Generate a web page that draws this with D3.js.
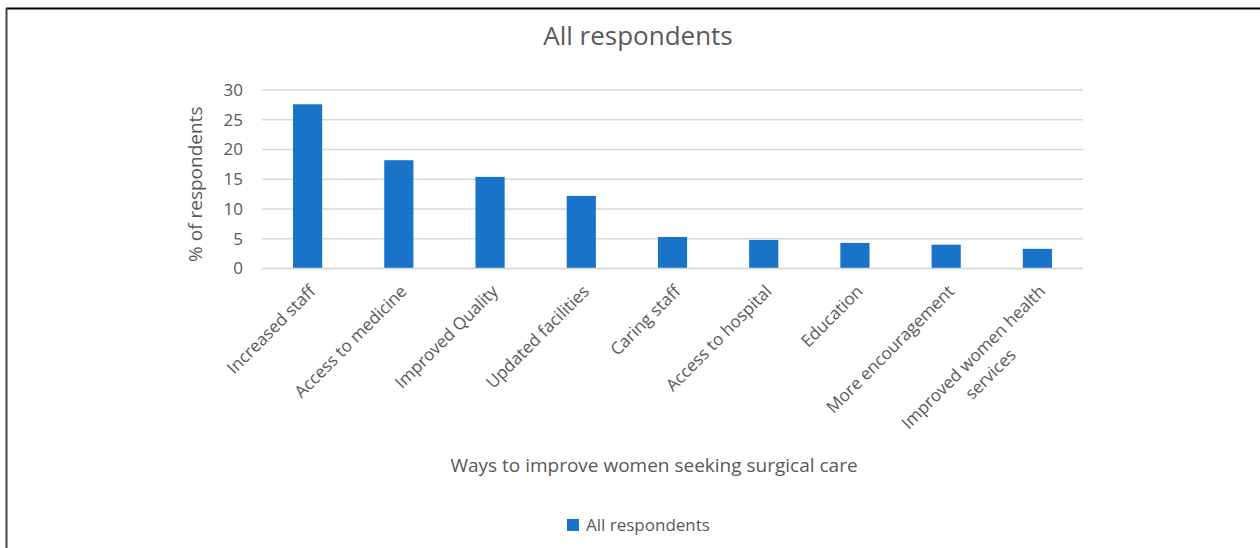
<!DOCTYPE html>
<html>
<head>
<meta charset="utf-8">
<script src="https://cdn.jsdelivr.net/npm/d3@7"></script>
<style>
  html, body { margin: 0; padding: 0; background: #fff; }
  svg { display: block; font-family: "Open Sans", "Noto Sans", sans-serif; }
</style>
</head>
<body>
<svg id="chart" width="1260" height="548"></svg>
<script>
// Suggested ways to improve women seeking surgical care (% of all respondents)
const categories = [
  "Increased staff",
  "Access to medicine",
  "Improved Quality",
  "Updated facilities",
  "Caring staff",
  "Access to hospital",
  "Education",
  "More encouragement",
  "Improved women health services"
];
const values = [27.6, 18.2, 15.4, 12.2, 5.3, 4.8, 4.3, 4.0, 3.3];
const yTicks = [0, 5, 10, 15, 20, 25, 30];
const seriesName = "All respondents";
const chartTitle = "All respondents";
const xTitle = "Ways to improve women seeking surgical care";
const yTitle = "% of respondents";

const textColor = "#595959";
const barColor = "#1873C9";
const gridColor = "#d9d9d9";

const svg = d3.select("#chart");

// outer frame (top and left edges visible)
svg.append("line").attr("x1", 6).attr("x2", 1260).attr("y1", 8.5).attr("y2", 8.5)
  .attr("stroke", "#000").attr("stroke-width", 2);
svg.append("line").attr("x1", 6.5).attr("x2", 6.5).attr("y1", 8).attr("y2", 548)
  .attr("stroke", "#444").attr("stroke-width", 2);

const plot = { left: 262, right: 1083, top: 90, bottom: 268.5 };

const x = d3.scaleBand().domain(categories).range([plot.left, plot.right])
  .paddingInner(0.68).paddingOuter(0.34);
const y = d3.scaleLinear().domain([0, 30]).range([plot.bottom, plot.top]);

// gridlines
svg.append("g").selectAll("line").data(yTicks).join("line")
  .attr("x1", plot.left).attr("x2", plot.right)
  .attr("y1", d => y(d)).attr("y2", d => y(d))
  .attr("stroke", gridColor).attr("stroke-width", 1.5);

// y tick labels via axis
const yAxis = svg.append("g").attr("transform", `translate(${plot.left},0)`)
  .call(d3.axisLeft(y).tickValues(yTicks).tickSize(0).tickPadding(19));
yAxis.select(".domain").remove();
yAxis.selectAll("text").attr("fill", textColor).style("font-size", "17px")
  .style("font-family", "'Open Sans', sans-serif");

// bars
svg.append("g").selectAll("rect").data(values).join("rect")
  .attr("x", (d, i) => x(categories[i]))
  .attr("width", x.bandwidth())
  .attr("y", d => y(d))
  .attr("height", d => y(0) - y(d))
  .attr("fill", barColor);

// baseline
svg.append("line").attr("x1", plot.left).attr("x2", plot.right)
  .attr("y1", y(0)).attr("y2", y(0)).attr("stroke", gridColor).attr("stroke-width", 1.5);

// rotated category labels, wrapped at a max width
const maxLabel = 215;
const labelSize = 17;
const labels = svg.append("g").selectAll("g").data(categories).join("g")
  .attr("transform", d => `translate(${x(d) + x.bandwidth() / 2 + 9},${plot.bottom + 24}) rotate(-45)`);

labels.each(function(d) {
  const g = d3.select(this);
  const words = d.split(" ");
  const lines = [];
  let cur = [];
  const probe = g.append("text").style("font-size", labelSize + "px");
  words.forEach(w => {
    const trial = cur.concat(w).join(" ");
    probe.text(trial);
    if (probe.node().getComputedTextLength() > maxLabel && cur.length) {
      lines.push(cur.join(" "));
      cur = [w];
    } else cur.push(w);
  });
  lines.push(cur.join(" "));
  probe.remove();
  let firstW = 0;
  lines.forEach((ln, k) => {
    const t = g.append("text").style("font-size", labelSize + "px").attr("fill", textColor).text(ln);
    if (k === 0) {
      t.attr("text-anchor", "end");
      firstW = t.node().getComputedTextLength();
    } else {
      t.attr("text-anchor", "middle").attr("x", -firstW / 2).attr("y", 24 * k);
    }
  });
});

// titles
svg.append("text").attr("x", 638).attr("y", 45).attr("text-anchor", "middle")
  .attr("fill", textColor).style("font-size", "26px").text(chartTitle);

svg.append("text").attr("x", 654).attr("y", 472).attr("text-anchor", "middle")
  .attr("fill", textColor).style("font-size", "19px").text(xTitle);

svg.append("text").attr("transform", `translate(202,${(plot.top + plot.bottom) / 2 + 5}) rotate(-90)`)
  .attr("text-anchor", "middle").attr("fill", textColor).style("font-size", "19px").text(yTitle);

// legend
const legend = svg.append("g").attr("transform", "translate(567,519)");
legend.append("rect").attr("width", 12).attr("height", 12).attr("fill", barColor);
legend.append("text").attr("x", 19).attr("y", 12).attr("fill", textColor)
  .style("font-size", "17px").text(seriesName);
</script>
</body>
</html>
